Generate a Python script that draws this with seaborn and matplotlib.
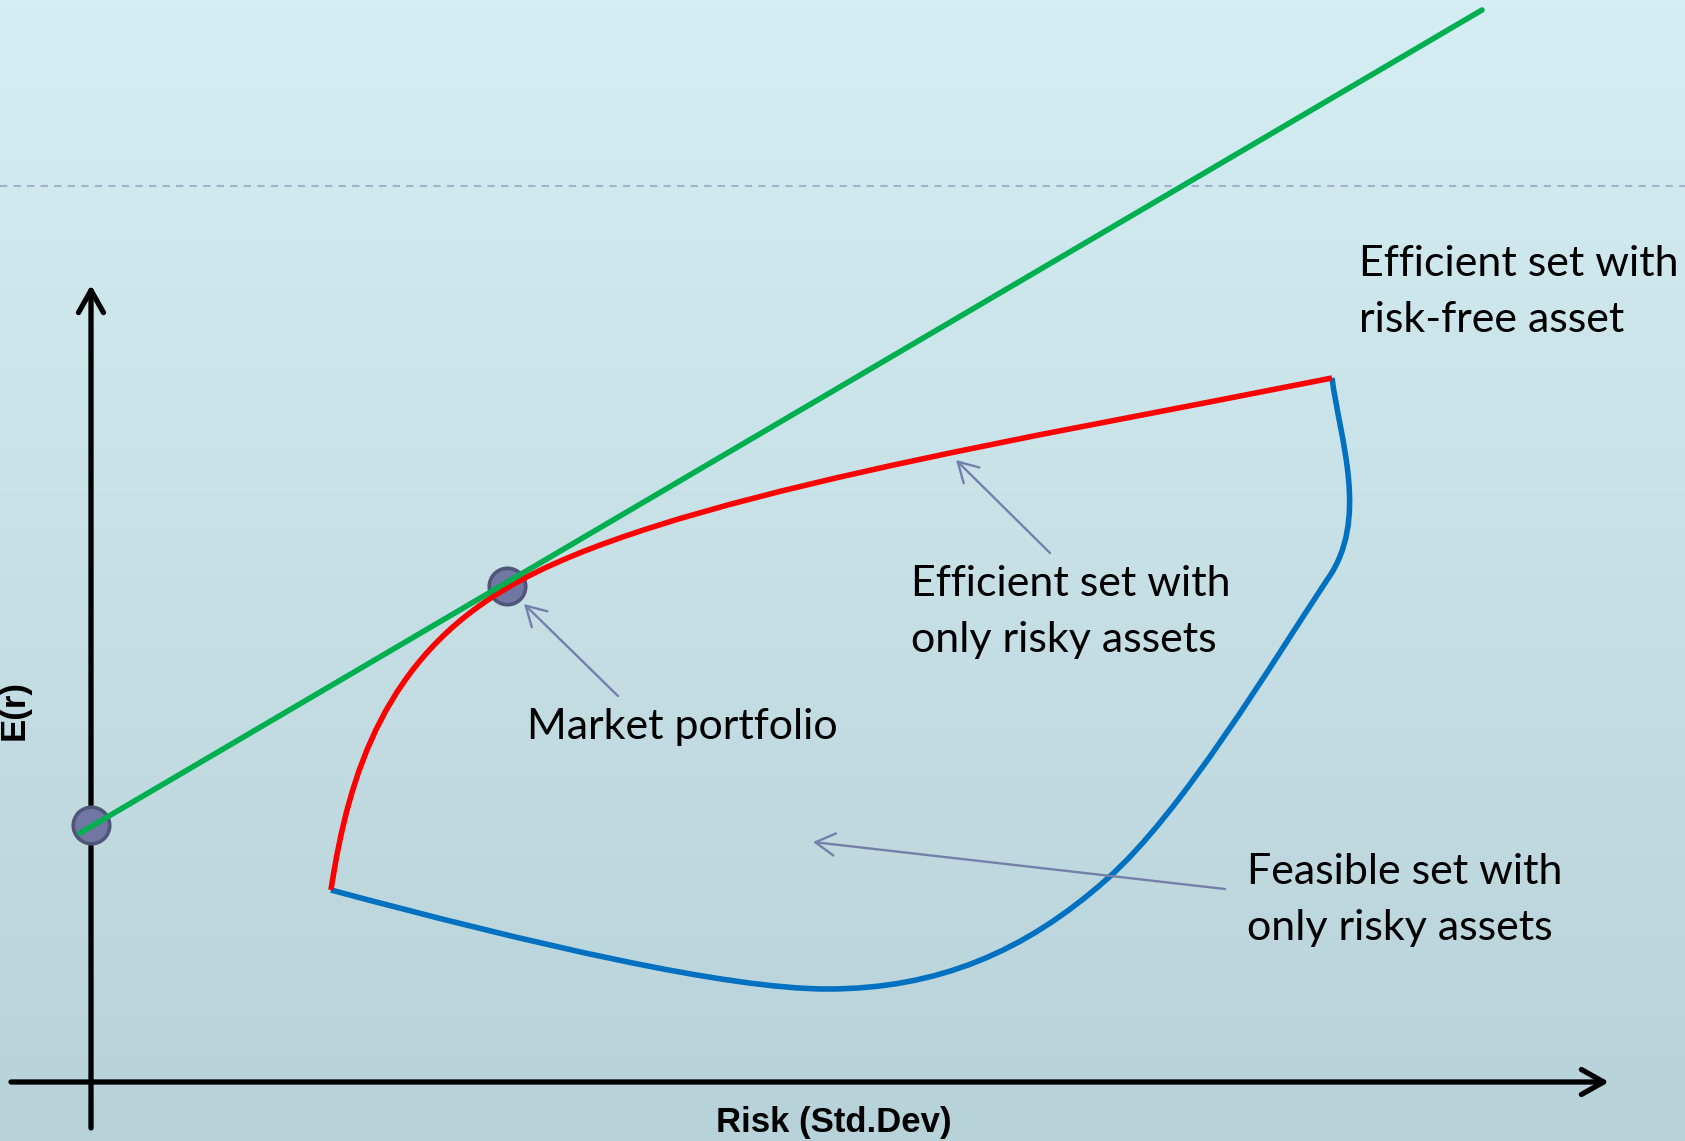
import numpy as np
import pandas as pd
import matplotlib
matplotlib.use("Agg")
import matplotlib.pyplot as plt
from matplotlib.path import Path
from matplotlib.patches import PathPatch
from matplotlib.colors import LinearSegmentedColormap
import seaborn as sns

# ---------------- data (risk, expected return) in chart units ----------------
# Capital market line (efficient set with risk-free asset)
cml_risk = [-11, 1391]
cml_ret = [249, 1072]

# Risk-free asset and market portfolio
pt_risk = [0, 416]
pt_ret = [257, 496]

# Efficient frontier (cubic Bezier control points)
eff_risk = [240, 258, 296, 416, 566, 941, 1241]
eff_ret = [192, 312, 424, 494, 584, 644, 704]

# Lower / right boundary of feasible set (cubic Bezier control points)
feas_risk = [1241, 1249, 1279, 1236, 1181, 1091, 1016, 934, 846, 736, 636, 441, 240]
feas_ret = [704, 642, 562, 502, 419, 269, 203, 130, 93, 93, 93, 138, 192]

# Annotation labels: (text lines, x, first-baseline y)
labels = [
    (["Efficient set with", "risk-free asset"], 1268, 806),
    (["Efficient set with", "only risky assets"], 820, 486),
    (["Market portfolio"], 436, 343),
    (["Feasible set with", "only risky assets"], 1156, 198),
]
# Pointer arrows: (from, to)
pointers = [
    ((527, 386), (433, 478)),
    ((959, 529), (865, 622)),
    ((1134, 193), (722, 240)),
]
xlabel = "Risk (Std.Dev)"
ylabel = "E(r)"

# ---------------- figure ----------------
sns.set_theme(style="white")
plt.rcParams["font.family"] = ["Lato", "DejaVu Sans"]

fig = plt.figure(figsize=(16.85, 11.41), dpi=100)
ax = fig.add_axes([0, 0, 1, 1])
X0, X1, Y0, Y1 = -91, 1594, -59, 1082

cmap = LinearSegmentedColormap.from_list("bg", ["#d5eef3", "#b8d2d9"])
grad = np.linspace(0, 1, 256).reshape(-1, 1)
ax.imshow(grad, cmap=cmap, extent=[X0, X1, Y0, Y1], aspect="auto", zorder=0, origin="upper")

# dashed guide line
ax.axhline(896, color="#9fb3cb", lw=1.5, dashes=(3.5, 3), zorder=1)

# axes with arrows
axis_kw = dict(arrowstyle="->,head_length=0.8,head_width=0.45", lw=3.8, color="black",
               mutation_scale=20, shrinkA=0, shrinkB=0, capstyle="round", joinstyle="round")
ax.annotate("", xy=(0, 797), xytext=(0, -46), arrowprops=axis_kw, zorder=3)
ax.annotate("", xy=(1518, 0), xytext=(-80, 0), arrowprops=axis_kw, zorder=3)

# markers
sns.scatterplot(x=pt_risk, y=pt_ret, s=690, color="#7077a3", edgecolor="#50557a",
                linewidth=2.6, ax=ax, zorder=4, legend=False)


def bezier_patch(xs, ys, color):
    verts = list(zip(xs, ys))
    codes = [Path.MOVETO] + [Path.CURVE4] * (len(verts) - 1)
    return PathPatch(Path(verts, codes), facecolor="none", edgecolor=color, lw=4.0,
                     capstyle="butt", joinstyle="round", zorder=5)


ax.add_patch(bezier_patch(feas_risk, feas_ret, "#0070c0"))
ax.add_patch(bezier_patch(eff_risk, eff_ret, "#ff0000"))

cml = pd.DataFrame({"risk": cml_risk, "ret": cml_ret})
sns.lineplot(data=cml, x="risk", y="ret", color="#00b050", lw=4.0, ax=ax, zorder=6)
ax.set_xlim(X0, X1)
ax.set_ylim(Y0, Y1)
ax.axis("off")

# pointer arrows
for (x0, y0), (x1, y1) in pointers:
    ax.annotate("", xy=(x1, y1), xytext=(x0, y0),
                arrowprops=dict(arrowstyle="->,head_length=0.7,head_width=0.4", lw=1.7,
                                color="#7480aa", mutation_scale=20, shrinkA=0, shrinkB=0),
                zorder=7)

# labels
for lines, x, y in labels:
    for i, line in enumerate(lines):
        ax.text(x, y - i * 56, line, fontsize=31, color="black", ha="left", va="baseline", zorder=8)

ax.text(743, -50, xlabel, fontsize=25, fontweight="bold", color="black",
        family=["Liberation Sans", "DejaVu Sans"], ha="center", va="baseline", zorder=8)
ax.text(-77, 372, ylabel, fontsize=25, fontweight="bold", color="black",
        family=["Liberation Sans", "DejaVu Sans"], rotation=90, ha="center", va="center", zorder=8)

fig.savefig("out.png", dpi=100)
